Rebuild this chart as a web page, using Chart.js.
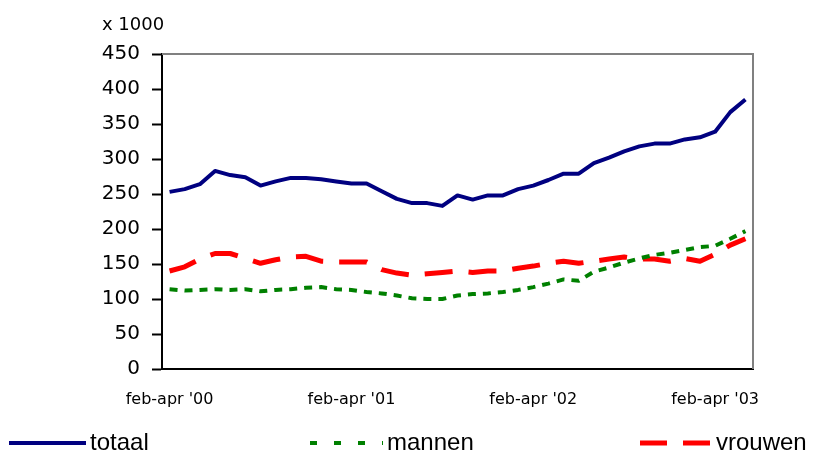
<!DOCTYPE html>
<html>
<head>
<meta charset="utf-8">
<script src="https://cdn.jsdelivr.net/npm/chart.js"></script>
<style>
  body { margin: 0; background: #fff; }
  #wrap { width: 813px; height: 453px; }
</style>
</head>
<body>
<div id="wrap"><canvas id="chart" width="813" height="453"></canvas></div>
<script>
// rolling quarters, feb-apr '00 .. apr-jun '03
const periods = [
  "feb-apr '00", "mrt-mei '00", "apr-jun '00", "mei-jul '00", "jun-aug '00", "jul-sep '00",
  "aug-okt '00", "sep-nov '00", "okt-dec '00", "nov-jan '01", "dec-feb '01", "jan-mrt '01",
  "feb-apr '01", "mrt-mei '01", "apr-jun '01", "mei-jul '01", "jun-aug '01", "jul-sep '01",
  "aug-okt '01", "sep-nov '01", "okt-dec '01", "nov-jan '02", "dec-feb '02", "jan-mrt '02",
  "feb-apr '02", "mrt-mei '02", "apr-jun '02", "mei-jul '02", "jun-aug '02", "jul-sep '02",
  "aug-okt '02", "sep-nov '02", "okt-dec '02", "nov-jan '03", "dec-feb '03", "jan-mrt '03",
  "feb-apr '03", "mrt-mei '03", "apr-jun '03"
];

// x 1000
const totaal = [253, 257, 264, 283, 277, 274, 262, 268, 273, 273, 271, 268, 265, 265, 254, 243, 237, 237, 233, 248,
  242, 248, 248, 257, 262, 270, 279, 279, 294, 302, 311, 318, 322, 322, 328, 331, 339, 367, 385];
const mannen = [114, 112, 113, 114, 113, 114, 111, 113, 114, 116, 117, 114, 113, 110, 108, 105, 101, 100, 100, 105,
  107, 108, 110, 113, 117, 122, 128, 126, 139, 145, 152, 158, 163, 166, 170, 174, 176, 186, 197];
const vrouwen = [140, 146, 157, 165, 165, 158, 151, 156, 160, 161, 154, 153, 153, 153, 142, 137, 134, 136, 138, 140,
  138, 140, 140, 144, 147, 151, 154, 151, 154, 157, 160, 157, 157, 154, 158, 154, 164, 177, 186];

const seriesNames = ['totaal', 'mannen', 'vrouwen'];
const yTicks = { min: 0, max: 450, step: 50 };
const unitLabel = 'x 1000';

const FONT = 'Arial, "Liberation Sans", sans-serif';
const AXIS_FONT = '"DejaVu Sans", Arial, sans-serif';
Chart.defaults.font.family = AXIS_FONT;
Chart.defaults.color = '#000';

// frame (grey top/right), unit label and the spread-out legend
const extras = {
  id: 'extras',
  beforeDatasetsDraw(chart) {
    const { ctx, chartArea: a } = chart;
    ctx.save();
    ctx.strokeStyle = '#808080';
    ctx.lineWidth = 2;
    ctx.beginPath();
    ctx.moveTo(a.left, a.top);
    ctx.lineTo(a.right, a.top);
    ctx.lineTo(a.right, a.bottom);
    ctx.stroke();
    ctx.restore();
  },
  afterDraw(chart, args, opts) {
    const { ctx } = chart;
    ctx.save();
    ctx.fillStyle = '#000';
    ctx.font = '18px ' + AXIS_FONT;
    ctx.textBaseline = 'alphabetic';
    ctx.fillText(unitLabel, 102, 30);

    ctx.font = '24px ' + FONT;
    ctx.textBaseline = 'middle';
    chart.data.datasets.forEach((ds, i) => {
      const it = opts.items[i];
      ctx.strokeStyle = ds.borderColor;
      ctx.lineWidth = ds.borderWidth;
      ctx.lineCap = 'butt';
      ctx.setLineDash(it.dash);
      ctx.beginPath();
      ctx.moveTo(it.x, opts.y);
      ctx.lineTo(it.x + it.w, opts.y);
      ctx.stroke();
      ctx.setLineDash([]);
      ctx.fillText(ds.label, it.x + it.w + 4, opts.y);
    });
    ctx.restore();
  }
};

const chart = new Chart(document.getElementById('chart'), {
  type: 'line',
  data: {
    labels: periods,
    datasets: [
      { label: seriesNames[0], data: totaal, borderColor: '#000080', borderWidth: 4 },
      { label: seriesNames[1], data: mannen, borderColor: '#008000', borderWidth: 4, borderDash: [8, 7] },
      { label: seriesNames[2], data: vrouwen, borderColor: '#ff0000', borderWidth: 5, borderDash: [28, 16] },
    ],
  },
  plugins: [extras],
  options: {
    responsive: false,
    animation: false,
    layout: { padding: { left: 0, right: 60, top: 54, bottom: 44 } },
    elements: {
      point: { radius: 0, hoverRadius: 0 },
      line: { tension: 0, fill: false, borderJoinStyle: 'round', borderCapStyle: 'butt' },
    },
    scales: {
      x: {
        offset: true,
        grid: { display: false, drawTicks: false },
        border: { display: true, color: '#000', width: 2 },
        ticks: {
          autoSkip: false,
          maxRotation: 0,
          padding: 21,
          font: { size: 16 },
          callback(v, i) { return i % 12 === 0 ? this.getLabelForValue(v) : ''; },
        },
        afterFit(s) { s.height = 40; },
      },
      y: {
        min: yTicks.min,
        max: yTicks.max,
        grid: { drawOnChartArea: false, drawTicks: true, tickLength: 10, tickColor: '#000', tickWidth: 2 },
        border: { display: true, color: '#000', width: 2 },
        ticks: { stepSize: yTicks.step, padding: 12, font: { size: 20 } },
        afterFit(s) { s.width = 162; },
      },
    },
    plugins: {
      legend: { display: false },
      tooltip: { enabled: false },
      extras: {
        y: 443,
        items: [
          { x: 9, w: 77, dash: [] },
          { x: 310, w: 73, dash: [7, 17] },
          { x: 640, w: 72, dash: [27, 16] },
        ],
      },
    },
  },
});
</script>
</body>
</html>
